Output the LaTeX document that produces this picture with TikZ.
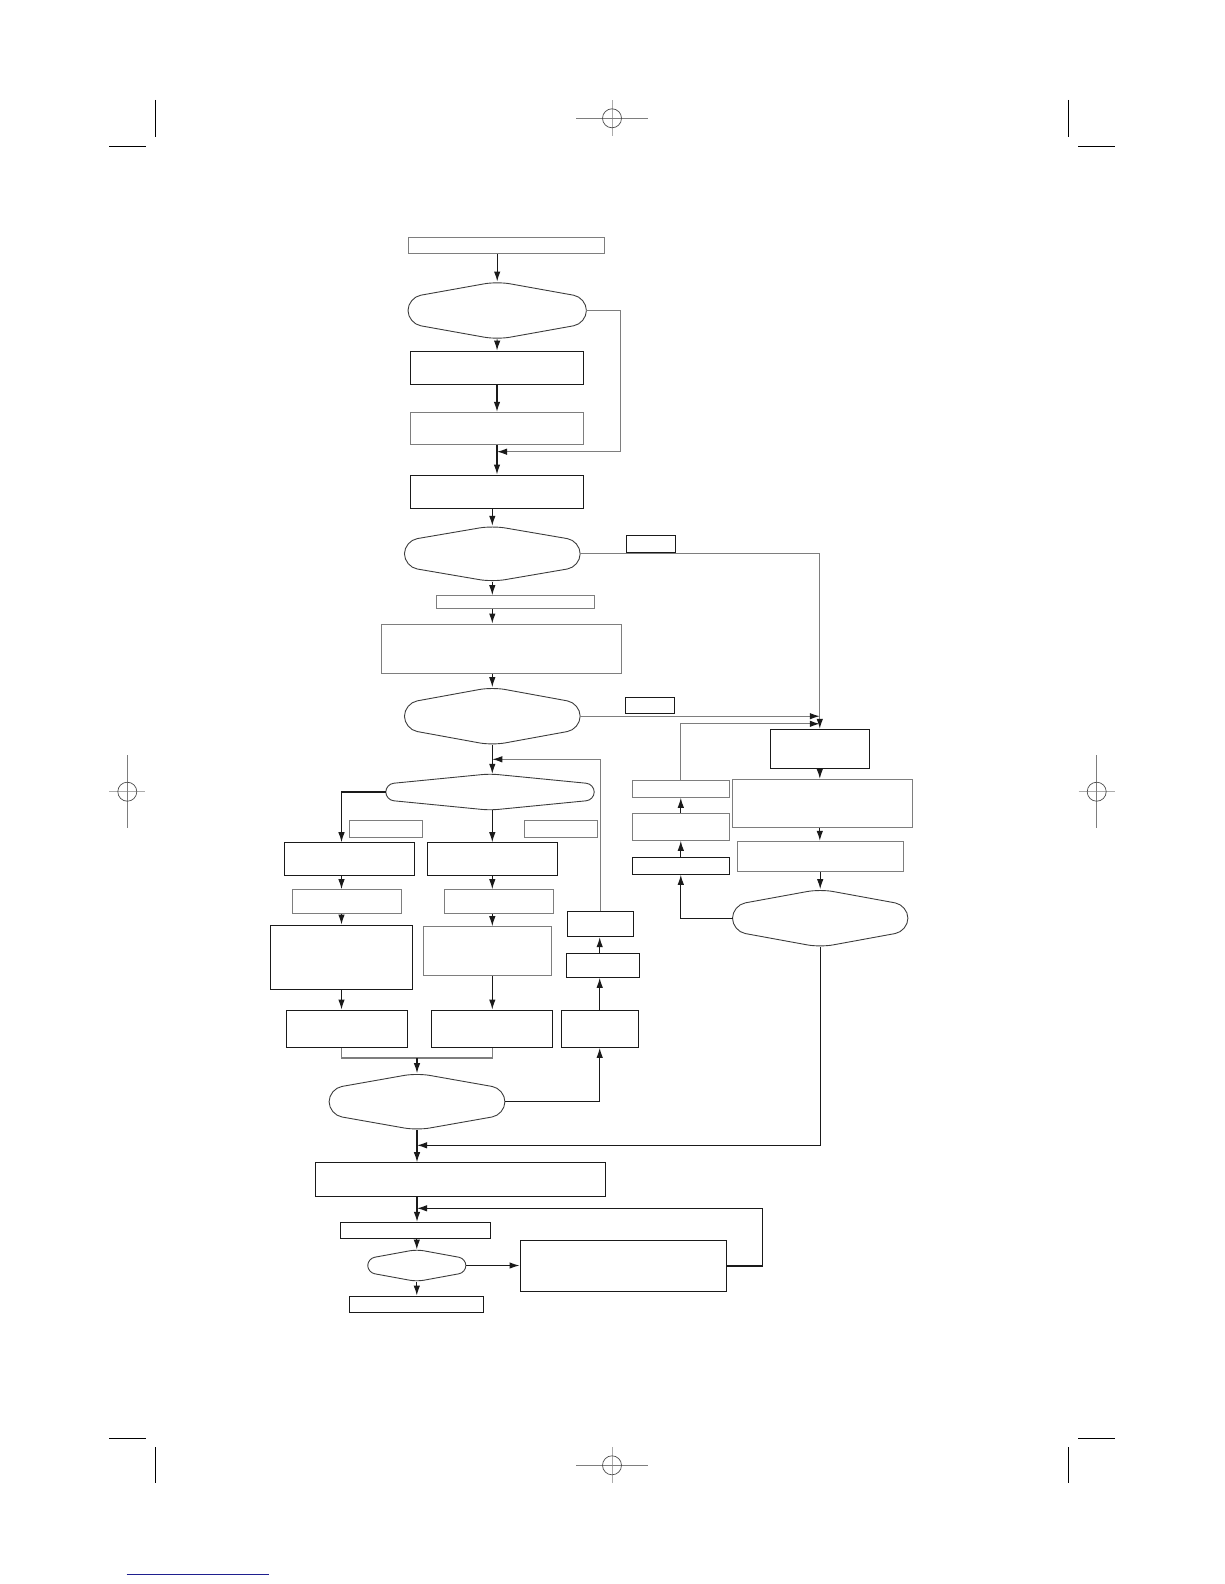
\documentclass[tikz,border=0pt]{standalone}
\usetikzlibrary{arrows.meta,positioning,calc}
\definecolor{fcInk}{HTML}{1A1A1A}
\definecolor{fcGrey}{HTML}{7E7E7E}
\definecolor{fcReg}{HTML}{ABABAB}
\definecolor{fcLink}{HTML}{1F1F8F}

\begin{document}
\begin{tikzpicture}[x=1pt, y=-1pt,
  box/.style 2 args={draw=fcInk, line width=1pt, inner sep=0pt, minimum width=#1pt, minimum height=#2pt},
  boxg/.style 2 args={box={#1}{#2}, draw=fcGrey},
  dec/.style 2 args={inner sep=0pt, minimum width=#1pt, minimum height=#2pt},
  decln/.style={draw=fcInk!85, line width=0.9pt},
  arr/.style={-{Latex[length=10pt,width=6.5pt]}, line width=1.1pt, fcInk},
  arrg/.style={-{Latex[length=10pt,width=6.5pt,color=fcInk]}, line width=1.1pt, fcGrey},
  lng/.style={line width=1.1pt, fcGrey},
  crop/.style={line width=1.2pt, black},
  reg/.style={line width=0.9pt, fcReg},
  regc/.style={line width=0.7pt, black!70}]
\useasboundingbox (0,0) rectangle (1224,1584);

% trim and register marks
\draw[crop] (155.3,100) -- (155.3,136.7);  \draw[crop] (109,146.3) -- (146,146.3);
\draw[crop] (1068.7,100) -- (1068.7,136.7); \draw[crop] (1078,146.3) -- (1115,146.3);
\draw[crop] (109,1438.3) -- (146,1438.3);  \draw[crop] (155.3,1447.3) -- (155.3,1483.3);
\draw[crop] (1078,1438.3) -- (1115,1438.3); \draw[crop] (1068.7,1447.3) -- (1068.7,1483.3);
\foreach \y in {118.3,1465.3}{
  \draw[reg] (612,\y-18) -- (612,\y+18);
  \draw[reg, fcGrey] (576,\y) -- (648,\y);
  \draw[regc] (612,\y) circle (9.5);}
\foreach \x in {127.3,1096.7}{
  \draw[reg] (\x-18,791.7) -- (\x+18,791.7);
  \draw[reg, fcGrey] (\x,755) -- (\x,828.3);
  \draw[regc] (\x,791.7) circle (9.5);}
\draw[line width=1.3pt, fcLink] (126.7,1574.7) -- (269,1574.7);

% main column
\node[boxg={196}{16.5}] (T0) at (506,245.5) {};
\node[dec={178}{57.6}] (D1) at (497.2,310.5) {};
\node[box={172.6}{33.3}] (B1) at (497,367.7) {};
\node[boxg={172.6}{32}] (B2) at (497,428.3) {};
\node[box={172.6}{33}] (B3) at (497,491.5) {};
\node[dec={175.3}{55.7}] (D2) at (492.3,553.8) {};
\node[box={48.6}{16.6}] (L1) at (651,544) {};
\node[boxg={158.3}{13.3}] (S1) at (515.2,602.3) {};
\node[boxg={240}{49}] (B4) at (501.7,648.5) {};
\node[dec={175.3}{57.7}] (D3) at (492.3,716.2) {};
\node[box={48.6}{16}] (L2) at (650,705.3) {};
\node[dec={208}{36}] (D4) at (490,792) {};

% three branches
\node[boxg={72.7}{16.7}] (LL) at (385.7,829.3) {};
\node[boxg={73}{16.7}] (LR) at (560.8,829.3) {};
\node[box={130}{33}] (CL1) at (349,859.2) {};
\node[boxg={109}{24.3}] (CL2) at (347.2,901.8) {};
\node[box={142.3}{64.3}] (CL3) at (341.2,957.2) {};
\node[box={121}{37.3}] (CL4) at (347.2,1028.7) {};
\node[box={130}{33}] (CM1) at (492.3,859.2) {};
\node[boxg={109}{24.3}] (CM2) at (498.8,901.8) {};
\node[boxg={128}{48.6}] (CM3) at (487.3,951) {};
\node[box={121}{37.3}] (CM4) at (491.5,1028.7) {};
\node[box={77.3}{37.3}] (CR1) at (599.7,1028.7) {};
\node[box={73}{24}] (CR2) at (602.8,965.3) {};
\node[box={66}{25}] (CR3) at (600.3,924.2) {};

% right loop
\node[box={99}{39}] (R1) at (819.8,748.8) {};
\node[boxg={179.6}{47.7}] (R2) at (822.5,803.2) {};
\node[boxg={165.7}{30.4}] (R3) at (820.2,856.5) {};
\node[dec={175}{57.7}] (D7) at (820.2,918.2) {};
\node[boxg={97}{16.6}] (RL1) at (680.8,789) {};
\node[boxg={97}{27}] (RL2) at (680.8,826.8) {};
\node[box={97}{17}] (RL3) at (680.8,865.8) {};

% lower part
\node[dec={175.4}{56.7}] (D5) at (417,1101.7) {};
\node[box={290.4}{34}] (B5) at (460.5,1179.7) {};
\node[box={150}{16}] (S2) at (415.3,1230.3) {};
\node[dec={97.7}{31.6}] (D6) at (416.8,1265.5) {};
\node[box={206}{51.4}] (B6) at (623,1266) {};
\node[box={133.7}{16.3}] (S3) at (416.8,1304.2) {};

\foreach \d/\c in {D1/13,D2/13,D3/13,D4/8,D5/13,D6/7,D7/13}
  \draw[decln, rounded corners=\c pt] (\d.north) -- ([yshift=\c pt]\d.west) -- ([yshift=-\c pt]\d.west)
    -- (\d.south) -- ([yshift=-\c pt]\d.east) -- ([yshift=\c pt]\d.east) -- cycle;

\coordinate (colL) at (341.5,0);
\coordinate (colM) at (492.3,0);
\coordinate (j1) at (497,451.7);
\coordinate (j2) at (492.3,759.3);
\coordinate (j3) at (417,1145.3);
\coordinate (j4) at (417,1208.3);
\coordinate (jm) at (417,1058);

\draw[arr] (T0.south -| D1.north) -- (D1.north);
\draw[arr] (D1.south) -- (B1.north);
\draw[arr] (B1.south) -- (B2.north);
\draw[arr] (B2.south) -- (B3.north);
\draw[arrg] (D1.east) -- ++(34,0) |- (j1);
\draw[arr] (B3.south -| D2.north) -- (D2.north);
\draw[arr] (D2.south) -- (D2.south |- S1.north);
\draw[arr] (S1.south -| D2.south) -- (B4.north -| D2.south);
\draw[arr] (B4.south -| D3.north) -- (D3.north);
\draw[arrg] (D2.east) -| (R1.north);
\draw[arrg] (D3.east) -- (D3.east -| R1.north);
\draw[arrg] (RL1.north) |- ([yshift=5pt]R1.north);
\draw[arr] (R1.south) -- (R2.north -| R1.south);
\draw[arr] (R2.south -| R1.south) -- (R3.north -| R1.south);
\draw[arr] (R3.south) -- (D7.north);
\draw[arr] (D7.west) -| (RL3.south);
\draw[arr] (RL3.north) -- (RL2.south);
\draw[arr] (RL2.north) -- (RL1.south);
\draw[arr] (D7.south) |- (j3);

\draw[arr] (D3.south) -- (D4.north -| D3.south);
\draw[arrg] (CR3.north) |- (j2);
\draw[arr] (CR1.north) -- (CR2.south -| CR1.north);
\draw[arr] (CR2.north -| CR1.north) -- (CR3.south -| CR1.north);
\draw[arr] (D4.west) -| (CL1.north -| colL);
\foreach \a/\b in {CL1/CL2,CL2/CL3,CL3/CL4}{\draw[arr] (\a.south -| colL) -- (\b.north -| colL);}
\draw[arr] (D4.south -| colM) -- (CM1.north -| colM);
\foreach \a/\b in {CM1/CM2,CM2/CM3,CM3/CM4}{\draw[arr] (\a.south -| colM) -- (\b.north -| colM);}
\draw[lng] (CL4.south -| colL) |- (jm) -| (CM4.south -| colM);
\draw[arr] (jm) -- (D5.north);
\draw[arr] (D5.east) -| (CR1.south);
\draw[arr] (D5.south) -- (D5.south |- B5.north);
\draw[arr] (B5.south -| D5.south) -- (S2.north -| D5.south);
\draw[arr] (S2.south -| D6.north) -- (D6.north);
\draw[arr] (D6.east) -- (D6.east -| B6.west);
\draw[arr] (B6.east) -- ++(36.3,0) |- (j4);
\draw[arr] (D6.south) -- (S3.north -| D6.south);
\end{tikzpicture}
\end{document}
